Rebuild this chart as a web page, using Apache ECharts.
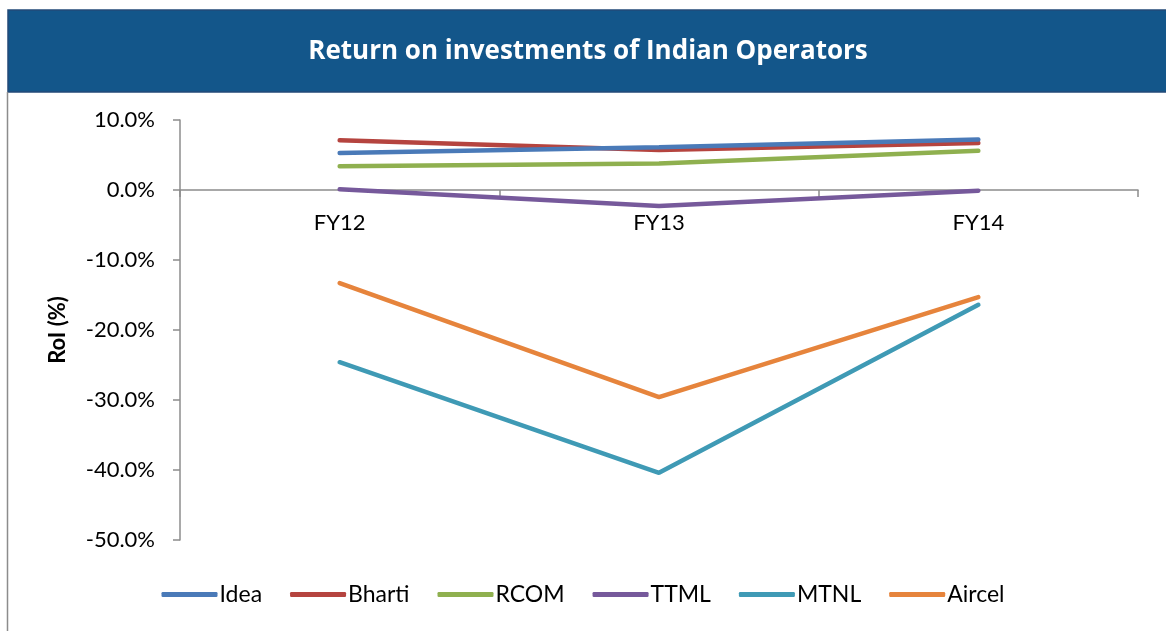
<!DOCTYPE html>
<html>
<head>
<meta charset="utf-8">
<script src="https://cdn.jsdelivr.net/npm/echarts@6/dist/echarts.min.js"></script>
<style>
  html,body{margin:0;padding:0;background:#fff;}
  #chart{width:1166px;height:631px;}
</style>
</head>
<body>
<div id="chart"></div>
<script>
// ==================== DATA ====================
const years=['FY12','FY13','FY14'];
const idea=[5.3,6.1,7.2];
const bharti=[7.1,5.7,6.7];
const rcom=[3.4,3.8,5.6];
const ttml=[0.1,-2.3,-0.1];
const mtnl=[-24.6,-40.4,-16.4];
const aircel=[-13.3,-29.6,-15.3];
const yTicks={min:-50,max:10,step:10};

const names=['Idea','Bharti','RCOM','TTML','MTNL','Aircel'];
const colors=['#4a7ab8','#b5443f','#8fb04f','#76599b','#3f9ab5','#e6843c'];
const values=[idea,bharti,rcom,ttml,mtnl,aircel];

const chart=echarts.init(document.getElementById('chart'));
const font='Lato';
const axisC='#8c8c8c';

const series=names.map((n,i)=>({
  name:n,type:'line',data:values[i],symbol:'none',
  lineStyle:{color:colors[i],width:4.5,cap:'round'},itemStyle:{color:colors[i]},
  z:10-i
}));

chart.setOption({
  backgroundColor:'#fff',
  animation:false,
  graphic:[
    {type:'rect',shape:{x:8,y:10,width:1160,height:82},style:{fill:'#13568a',stroke:'#234a78',lineWidth:1.5},z:-1},
    {type:'line',shape:{x1:7.5,y1:92,x2:7.5,y2:631},style:{stroke:axisC,lineWidth:1.5}},
    {type:'text',x:588,y:52,style:{text:'Return on investments of Indian Operators',fill:'#fff',
      font:'bold 26px "Open Sans"',textAlign:'center',textVerticalAlign:'middle'}}
  ],
  grid:{left:180,right:28,top:120,bottom:91,containLabel:false},
  legend:{
    data:names,top:578,left:'center',icon:'roundRect',itemWidth:56,itemHeight:5,itemGap:28,
    textStyle:{fontFamily:font,fontSize:23,color:'#000',padding:[0,0,0,-3]}
  },
  xAxis:[{
    type:'category',data:years,boundaryGap:true,
    axisLine:{onZero:true,lineStyle:{color:axisC,width:1.5}},
    axisTick:{show:true,length:7,interval:0,lineStyle:{color:axisC,width:1.5}},
    axisLabel:{show:false},
    splitLine:{show:false}
  },{
    // labels sit just under the zero line, as in the source
    type:'category',data:years,boundaryGap:true,position:'bottom',offset:-350,
    axisLine:{show:false},axisTick:{show:false},
    axisLabel:{color:'#000',fontFamily:font,fontSize:22,margin:22},
    splitLine:{show:false}
  }],
  yAxis:{
    type:'value',min:yTicks.min,max:yTicks.max,interval:yTicks.step,
    name:'RoI (%)',nameLocation:'middle',nameGap:111,nameRotate:90,
    nameTextStyle:{fontFamily:font,fontSize:22,fontWeight:'bold',color:'#000'},
    axisLine:{show:true,lineStyle:{color:axisC,width:1.5}},
    axisTick:{show:true,length:7,lineStyle:{color:axisC,width:1.5}},
    axisLabel:{color:'#000',fontFamily:font,fontSize:22,margin:25,formatter:v=>v.toFixed(1)+'%'},
    splitLine:{show:false}
  },
  series
});
</script>
</body>
</html>
